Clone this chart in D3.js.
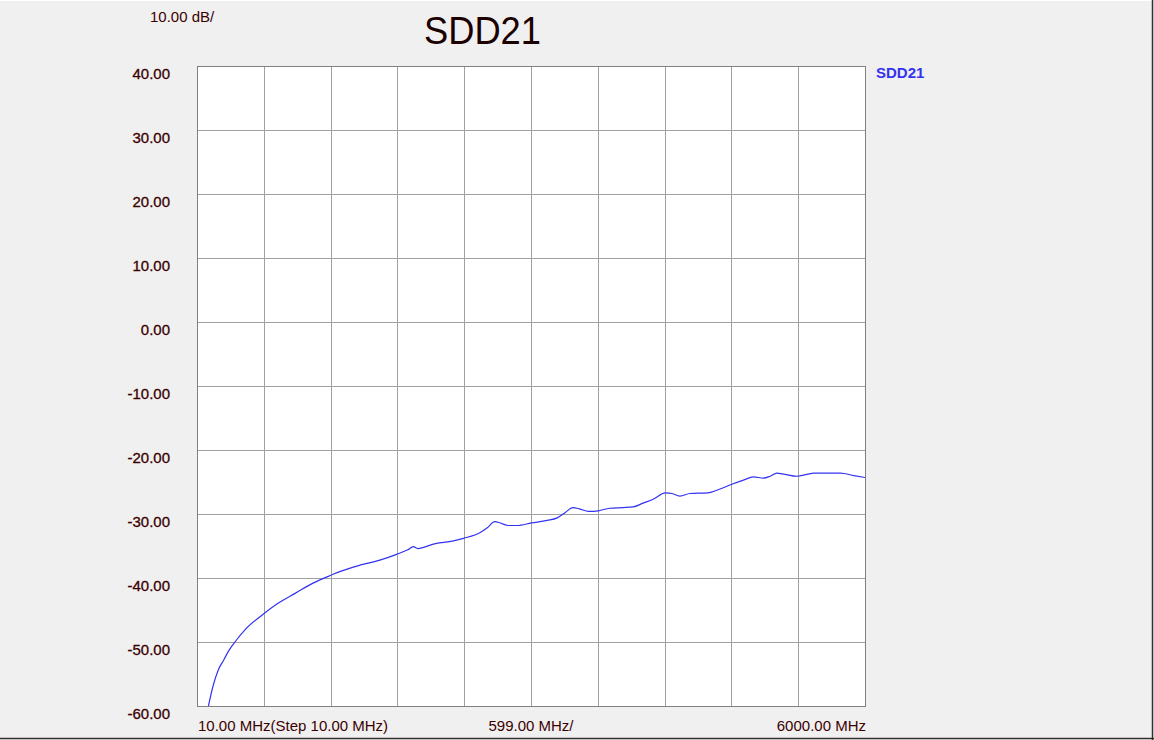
<!DOCTYPE html>
<html>
  <head>
    <meta charset="UTF-8">
    <title>SDD21</title>
    <script src="https://d3js.org/d3.v7.min.js"></script>
    <style>
      html, body { margin: 0; padding: 0; background: #f0f0f0; }
      svg { display: block; font-family: "Liberation Sans", Arial, sans-serif; }
    </style>
  </head>
  <body>
    <svg id="chart" width="1154" height="740"></svg>
    <script>
      // values (frequency in MHz, SDD21 in dB)
      const freqMHz = [110, 155, 200, 250, 290, 350, 440, 600, 740, 890, 1050, 1220, 1290, 1470, 1650, 1800, 1900, 1950, 1990,
        2130, 2310, 2400, 2550, 2610, 2680, 2730, 2800, 2880, 3010, 3150, 3240, 3310, 3380, 3440, 3520, 3610,
        3710, 3830, 3920, 4010, 4100, 4210, 4270, 4340, 4430, 4590, 4700, 4800, 4910, 5000, 5090, 5150, 5210,
        5280, 5390, 5480, 5540, 5780, 5900, 6000];
      const sdd21dB = [-60.2, -56.8, -54.4, -52.8, -51.5, -50.0, -48.1, -45.7, -43.9, -42.4, -40.8, -39.5, -39.0, -38.0, -37.2, -36.3, -35.6, -35.1, -35.4,
        -34.7, -34.2, -33.8, -32.9, -32.2, -31.2, -31.4, -31.8, -31.8, -31.4, -31.0, -30.6, -29.8, -29.0, -29.2, -29.6, -29.5,
        -29.1, -29.0, -28.9, -28.3, -27.7, -26.7, -26.8, -27.2, -26.8, -26.7, -26.1, -25.4, -24.7, -24.2, -24.4, -24.1, -23.6,
        -23.8, -24.1, -23.8, -23.6, -23.6, -24.0, -24.3];

      const yTicks = [40, 30, 20, 10, 0, -10, -20, -30, -40, -50, -60];
      const xStart = 10, xStop = 6000;
      const xLabels = ["10.00 MHz(Step 10.00 MHz)", "599.00 MHz/", "6000.00 MHz"];
      const title = "SDD21";
      const scaleLabel = "10.00 dB/";

      const textColor = "#3b0000";
      const traceColor = "#3333f0";

      const plot = { left: 197, top: 66, right: 865, bottom: 706 };

      const svg = d3.select("#chart");

      svg.append("rect")
        .attr("width", 1154).attr("height", 740)
        .attr("fill", "#f0f0f0");
      svg.append("line").attr("x1", 0).attr("x2", 1154).attr("y1", 0.5).attr("y2", 0.5)
        .attr("stroke", "#ffffff");
      svg.append("line").attr("x1", 1152.5).attr("x2", 1152.5).attr("y1", 0).attr("y2", 740)
        .attr("stroke", "#303030").attr("stroke-width", 1.5);
      svg.append("line").attr("x1", 0).attr("x2", 1154).attr("y1", 738.5).attr("y2", 738.5)
        .attr("stroke", "#303030").attr("stroke-width", 1.5);

      const x = d3.scaleLinear().domain([xStart, xStop]).range([plot.left, plot.right]);
      const y = d3.scaleLinear().domain([-60, 40]).range([plot.bottom, plot.top]);

      svg.append("rect")
        .attr("x", plot.left).attr("y", plot.top)
        .attr("width", plot.right - plot.left).attr("height", plot.bottom - plot.top)
        .attr("fill", "#ffffff");

      // grid: 10 divisions each way
      const xDivs = d3.range(1, 10).map(i => xStart + i * (xStop - xStart) / 10);
      svg.append("g").selectAll("line").data(xDivs).join("line")
        .attr("x1", d => Math.round(x(d)) + 0.5).attr("x2", d => Math.round(x(d)) + 0.5)
        .attr("y1", plot.top).attr("y2", plot.bottom)
        .attr("stroke", "#a0a0a0");
      svg.append("g").selectAll("line").data(yTicks.slice(1, -1)).join("line")
        .attr("x1", plot.left).attr("x2", plot.right)
        .attr("y1", d => Math.round(y(d)) + 0.5).attr("y2", d => Math.round(y(d)) + 0.5)
        .attr("stroke", "#a0a0a0");

      svg.append("rect")
        .attr("x", plot.left + 0.5).attr("y", plot.top + 0.5)
        .attr("width", plot.right - plot.left).attr("height", plot.bottom - plot.top)
        .attr("fill", "none").attr("stroke", "#808080");

      // y labels
      svg.append("g").selectAll("text").data(yTicks).join("text")
        .attr("x", 170).attr("y", d => y(d) + 13)
        .attr("text-anchor", "end")
        .attr("font-size", 15)
        .attr("fill", textColor)
        .attr("stroke", textColor).attr("stroke-width", 0.3)
        .text(d => d.toFixed(2));

      // x labels
      svg.append("text").attr("x", plot.left + 1).attr("y", 731)
        .attr("font-size", 15).attr("fill", textColor).text(xLabels[0]);
      svg.append("text").attr("x", x((xStart + xStop) / 2)).attr("y", 731)
        .attr("text-anchor", "middle")
        .attr("font-size", 15).attr("fill", textColor).text(xLabels[1]);
      svg.append("text").attr("x", plot.right + 1).attr("y", 731)
        .attr("text-anchor", "end")
        .attr("font-size", 15).attr("fill", textColor).text(xLabels[2]);

      svg.append("text").attr("x", 150).attr("y", 22)
        .attr("font-size", 15).attr("fill", textColor).text(scaleLabel);

      svg.append("text").attr("x", 424).attr("y", 44)
        .attr("font-size", 39)
        .attr("textLength", 117).attr("lengthAdjust", "spacingAndGlyphs")
        .attr("fill", "#1a0000").text(title);

      // legend
      svg.append("text").attr("x", 876).attr("y", 78)
        .attr("font-size", 15).attr("font-weight", "bold")
        .attr("fill", traceColor).text(title);

      // trace
      svg.append("clipPath").attr("id", "plotClip")
        .append("rect")
        .attr("x", plot.left).attr("y", plot.top)
        .attr("width", plot.right - plot.left).attr("height", plot.bottom - plot.top);

      const line = d3.line()
        .x((d, i) => x(freqMHz[i]))
        .y(d => y(d))
        .curve(d3.curveMonotoneX);

      svg.append("path")
        .datum(sdd21dB)
        .attr("clip-path", "url(#plotClip)")
        .attr("fill", "none")
        .attr("stroke", traceColor)
        .attr("stroke-width", 1.2)
        .attr("d", line);
    </script>
  </body>
</html>
